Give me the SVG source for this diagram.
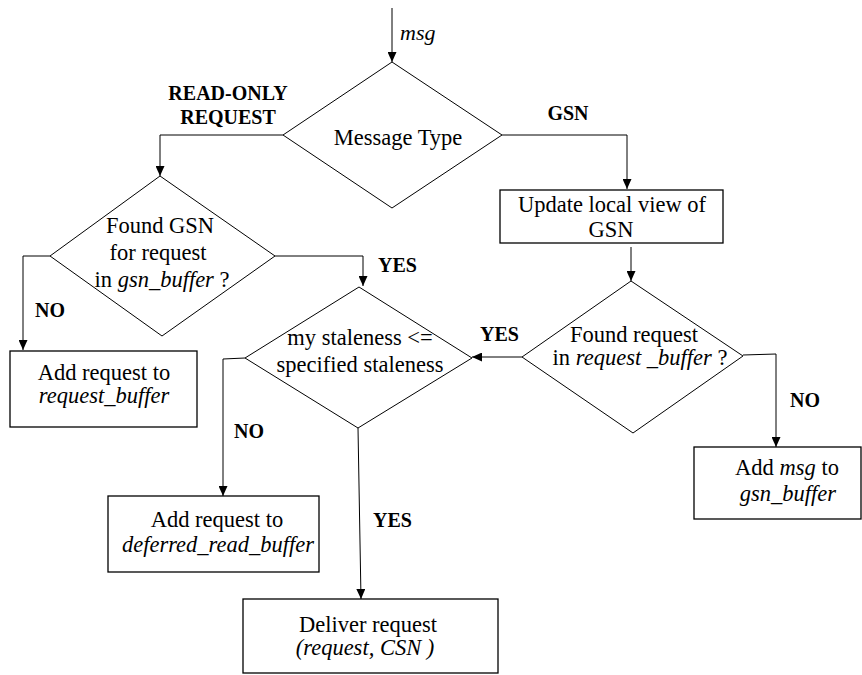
<svg xmlns="http://www.w3.org/2000/svg" width="862" height="675" viewBox="0 0 862 675">
  <defs>
    <marker id="arrow" markerUnits="userSpaceOnUse" markerWidth="10" markerHeight="9" refX="10" refY="4.5" orient="auto">
      <path d="M0,0 L10,4.5 L0,9 Z" fill="#000"/>
    </marker>
    <style>
      .shape { fill: #fff; stroke: #000; stroke-width: 1; }
      .box { fill: #fff; stroke: #000; stroke-width: 1.3; }
      .wire { fill: none; stroke: #000; stroke-width: 1; marker-end: url(#arrow); }
      text { font-family: "Liberation Serif", "Times New Roman", serif; fill: #000; }
      .t { font-size: 22.5px; text-anchor: middle; }
      .lbl { font-size: 20px; font-weight: bold; }
      .i { font-style: italic; }
    </style>
  </defs>

  <rect width="862" height="675" fill="#fff"/>

  <!-- connectors -->
  <g id="connectors">
    <path class="wire" d="M392,8 L392,62"/>
    <path class="wire" d="M283,135 L160,135 L160,176"/>
    <path class="wire" d="M502,135 L627,135 L627,189"/>
    <path class="wire" d="M631,247 L631,281"/>
    <path class="wire" d="M275,256 L363,256 L363,286"/>
    <path class="wire" d="M50,256 L23,256 L23,350"/>
    <path class="wire" d="M522,357 L472,357"/>
    <path class="wire" d="M743,355 L776,354 L776,447"/>
    <path class="wire" d="M245,358 L223,359 L223,496"/>
    <path class="wire" d="M358,428 L361,599"/>

    <text class="i" x="400" y="40" style="font-size:22px">msg</text>
    <text class="lbl" x="228" y="100" text-anchor="middle">READ-ONLY</text>
    <text class="lbl" x="228" y="124" text-anchor="middle">REQUEST</text>
    <text class="lbl" x="568" y="120" text-anchor="middle">GSN</text>
    <text class="lbl" x="35" y="317">NO</text>
    <text class="lbl" x="378" y="272">YES</text>
    <text class="lbl" x="480" y="341">YES</text>
    <text class="lbl" x="234" y="438">NO</text>
    <text class="lbl" x="790" y="407">NO</text>
    <text class="lbl" x="373" y="527">YES</text>
  </g>

  <!-- decision: message type -->
  <g id="message-type">
    <path class="shape" d="M392,62 L502,135 L392,208 L283,135 Z"/>
    <text class="t" x="398" y="145">Message Type</text>
  </g>

  <!-- decision: GSN present in gsn_buffer -->
  <g id="found-gsn">
    <path class="shape" d="M160,176 L275,256 L162,336 L50,256 Z"/>
    <text class="t" x="160" y="233">Found GSN</text>
    <text class="t" x="158" y="260">for request</text>
    <text class="t" x="162" y="287">in <tspan class="i">gsn_buffer</tspan> ?</text>
  </g>

  <!-- process: update GSN view -->
  <g id="update-gsn">
    <rect class="box" x="500" y="190" width="223" height="53"/>
    <text class="t" x="612" y="212">Update local view of</text>
    <text class="t" x="611" y="237">GSN</text>
  </g>

  <!-- decision: staleness check -->
  <g id="staleness">
    <path class="shape" d="M359,287 L472,358 L358,428 L245,358 Z"/>
    <text class="t" x="360" y="345">my staleness &lt;=</text>
    <text class="t" x="360" y="372">specified staleness</text>
  </g>

  <!-- decision: request present in request_buffer -->
  <g id="found-request">
    <path class="shape" d="M631,281 L743,356 L633,433 L522,357 Z"/>
    <text class="t" x="634" y="342">Found request</text>
    <text class="t" x="640" y="365">in <tspan class="i">request _buffer</tspan> ?</text>
  </g>

  <!-- process: queue request -->
  <g id="add-request-buffer">
    <rect class="box" x="10" y="351" width="187" height="76"/>
    <text class="t" x="104" y="380">Add request to</text>
    <text class="t i" x="104" y="403">request_buffer</text>
  </g>

  <!-- process: queue GSN message -->
  <g id="add-gsn-buffer">
    <rect class="box" x="694" y="447" width="167" height="72"/>
    <text class="t" x="787" y="475">Add <tspan class="i">msg</tspan> to</text>
    <text class="t i" x="788" y="501">gsn_buffer</text>
  </g>

  <!-- process: defer read -->
  <g id="add-deferred">
    <rect class="box" x="108" y="496" width="211" height="76"/>
    <text class="t" x="217" y="527">Add request to</text>
    <text class="t i" x="218" y="552">deferred_read_buffer</text>
  </g>

  <!-- process: deliver -->
  <g id="deliver">
    <rect class="box" x="243" y="599" width="255" height="74"/>
    <text class="t" x="368" y="632">Deliver request</text>
    <text class="t i" x="365" y="655">(request, CSN )</text>
  </g>
</svg>
